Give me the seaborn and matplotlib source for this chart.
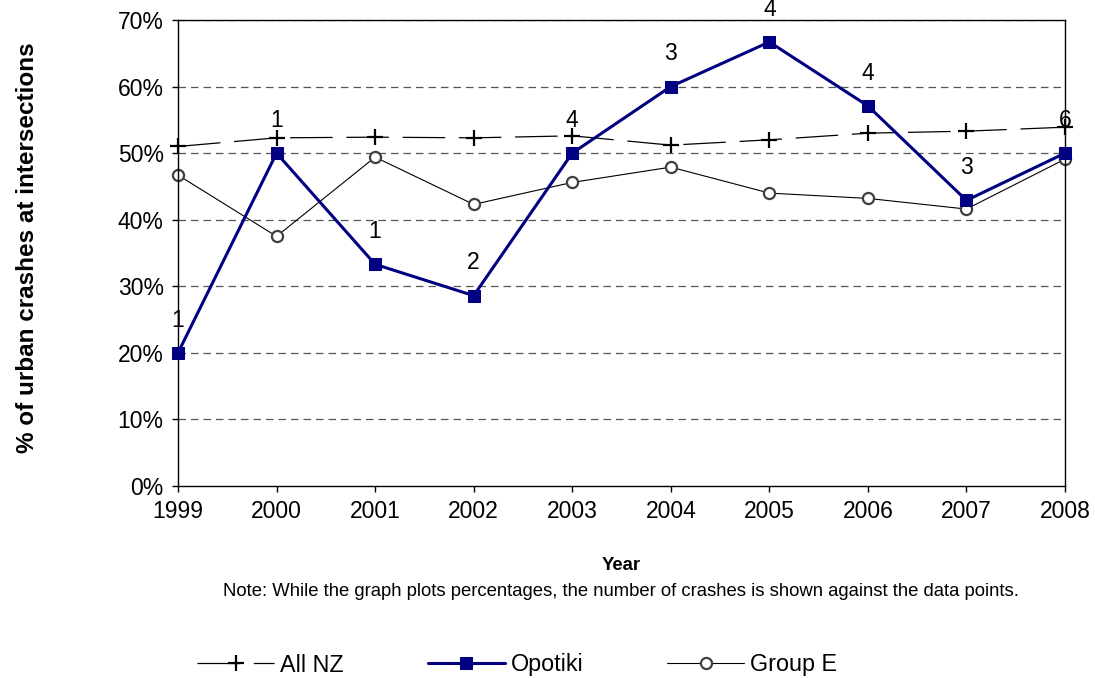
import numpy as np
import pandas as pd
import matplotlib
matplotlib.use("Agg")
import matplotlib.pyplot as plt
import seaborn as sns
from matplotlib.ticker import PercentFormatter

# data
years = [1999, 2000, 2001, 2002, 2003, 2004, 2005, 2006, 2007, 2008]
all_nz = [51.0, 52.3, 52.4, 52.3, 52.6, 51.2, 52.0, 53.0, 53.3, 53.9]
opotiki = [20.0, 50.0, 33.3, 28.6, 50.0, 60.0, 66.7, 57.1, 42.9, 50.0]
group_e = [46.7, 37.5, 49.4, 42.3, 45.6, 47.9, 44.0, 43.2, 41.6, 49.1]
opotiki_counts = [1, 1, 1, 2, 4, 3, 4, 4, 3, 6]

df = pd.DataFrame({"Year": years, "All NZ": all_nz,
                   "Opotiki": opotiki, "Group E": group_e})

sns.set_style("white")
plt.rcParams['font.family'] = ['Liberation Sans', 'DejaVu Sans']
plt.rcParams.update({"text.color": "black", "axes.labelcolor": "black",
                     "xtick.color": "black", "ytick.color": "black"})

W, H = 1095, 678
fig = plt.figure(figsize=(W / 100, H / 100), dpi=100)
ax = fig.add_axes([178 / W, 1 - 486 / H, 887 / W, 466 / H])

# gridlines
for v in range(10, 80, 10):
    ax.axhline(v, color="#555555", lw=0.9, dashes=(6, 4), zorder=0)

sns.lineplot(data=df, x="Year", y="All NZ", ax=ax, color="black", lw=0.9,
             marker="+", markersize=11, markeredgewidth=1.6,
             markeredgecolor="black", clip_on=False, label="All NZ")
ax.lines[-1].set_dashes((34, 11))

sns.lineplot(data=df, x="Year", y="Group E", ax=ax, color="black", lw=0.8,
             marker="o", markersize=8, markerfacecolor="white",
             markeredgecolor="#404040", markeredgewidth=1.6,
             clip_on=False, label="Group E")

sns.lineplot(data=df, x="Year", y="Opotiki", ax=ax, color="#000080", lw=2.2,
             marker="s", markersize=9, markeredgecolor="#000080",
             clip_on=False, label="Opotiki", zorder=5)

# counts over the Opotiki points
for yr, v, n in zip(years, opotiki, opotiki_counts):
    ax.annotate(str(n), (yr, v), xytext=(0, 23.5), textcoords="offset points",
                ha="center", va="center", fontsize=16.5, annotation_clip=False)

ax.set_xlim(1999, 2008)
ax.set_ylim(0, 70)
ax.set_xticks(years)
ax.set_yticks(range(0, 80, 10))
ax.yaxis.set_major_formatter(PercentFormatter(decimals=0))
ax.tick_params(axis="both", direction="out", length=4.3, width=1,
               labelsize=16.5, left=True, bottom=True)
ax.tick_params(axis="y", pad=6)
ax.tick_params(axis="x", pad=6)
for s in ax.spines.values():
    s.set_color("black")
    s.set_linewidth(1)

ax.set_xlabel("")
ax.set_ylabel("")
fig.text(28 / W, 1 - 248 / H, "% of urban crashes at intersections",
         rotation=90, ha="center", va="center", fontsize=17.5,
         fontweight="bold")
fig.text(621 / W, 1 - 565 / H, "Year", ha="center", va="center",
         fontsize=13.3, fontweight="bold")
fig.text(621 / W, 1 - 592 / H,
         "Note: While the graph plots percentages, the number of crashes is shown against the data points.",
         ha="center", va="center", fontsize=13.3)

ax.get_legend().remove()
handles, labels = ax.get_legend_handles_labels()
order = [labels.index(n) for n in ["All NZ", "Opotiki", "Group E"]]
fig.legend([handles[i] for i in order], [labels[i] for i in order],
           loc="center left", bbox_to_anchor=(188 / W, 1 - 665 / H),
           ncol=3, frameon=False, fontsize=16.8, handlelength=3.3,
           columnspacing=3.6, handletextpad=0.25, borderaxespad=0)

fig.savefig("out.png", dpi=100)
